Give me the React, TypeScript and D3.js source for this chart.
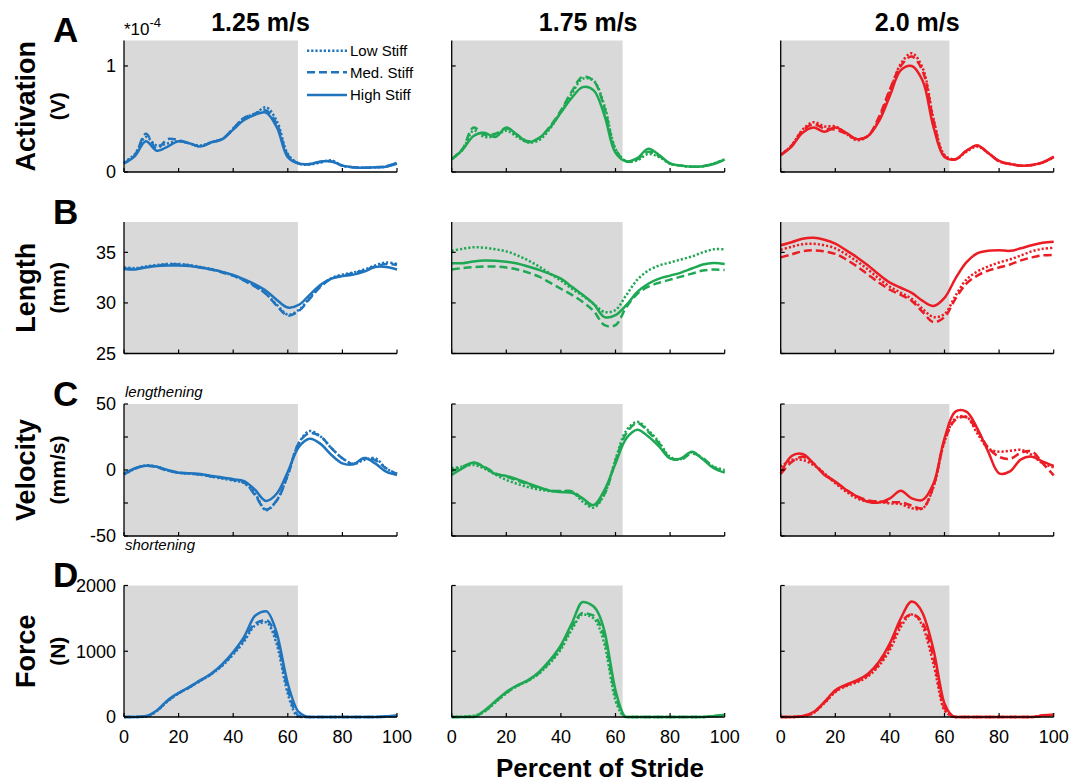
import * as d3 from 'd3';

// percent of stride sample points shared by every series
const PCT = [0, 4, 8, 12, 16, 20, 24, 28, 32, 36, 40, 44, 48, 52, 56, 60, 64, 68, 72, 76, 80, 84, 88, 92, 96, 100];

const SPEEDS = ['1.25 m/s', '1.75 m/s', '2.0 m/s'];
const STANCE_END = [63.7, 62.6, 61.8];
const STIFFNESS = ['Low Stiff', 'Med. Stiff', 'High Stiff'];
const X_TICKS = [0, 20, 40, 60, 80, 100];

// Activation (x1e-4 V)
const ACT_125_LOW = [0.09, 0.17, 0.33, 0.25, 0.27, 0.29, 0.27, 0.25, 0.28, 0.31, 0.41, 0.51, 0.55, 0.61, 0.48, 0.17, 0.08, 0.07, 0.09, 0.11, 0.06, 0.045, 0.04, 0.045, 0.05, 0.09];
const ACT_125_MED = [0.08, 0.16, 0.36, 0.22, 0.31, 0.30, 0.27, 0.24, 0.28, 0.31, 0.41, 0.51, 0.55, 0.58, 0.45, 0.16, 0.08, 0.075, 0.095, 0.10, 0.06, 0.045, 0.04, 0.045, 0.055, 0.085];
const ACT_125_HIGH = [0.08, 0.15, 0.29, 0.20, 0.24, 0.29, 0.27, 0.24, 0.28, 0.31, 0.40, 0.49, 0.54, 0.56, 0.42, 0.14, 0.08, 0.075, 0.10, 0.10, 0.06, 0.045, 0.04, 0.045, 0.05, 0.08];
const ACT_175_LOW = [0.12, 0.21, 0.39, 0.33, 0.34, 0.39, 0.33, 0.28, 0.30, 0.41, 0.57, 0.74, 0.88, 0.86, 0.62, 0.22, 0.10, 0.11, 0.17, 0.14, 0.08, 0.06, 0.05, 0.055, 0.08, 0.12];
const ACT_175_MED = [0.12, 0.22, 0.42, 0.35, 0.36, 0.41, 0.35, 0.29, 0.32, 0.43, 0.58, 0.76, 0.90, 0.86, 0.60, 0.21, 0.10, 0.12, 0.19, 0.15, 0.08, 0.06, 0.05, 0.055, 0.08, 0.12];
const ACT_175_HIGH = [0.12, 0.21, 0.34, 0.37, 0.33, 0.42, 0.35, 0.28, 0.32, 0.42, 0.56, 0.70, 0.80, 0.77, 0.53, 0.18, 0.10, 0.13, 0.22, 0.16, 0.08, 0.06, 0.05, 0.055, 0.075, 0.12];
const ACT_200_LOW = [0.16, 0.25, 0.40, 0.47, 0.43, 0.43, 0.36, 0.30, 0.34, 0.50, 0.76, 1.02, 1.12, 0.98, 0.50, 0.16, 0.12, 0.19, 0.24, 0.18, 0.10, 0.075, 0.06, 0.065, 0.09, 0.14];
const ACT_200_MED = [0.16, 0.25, 0.39, 0.45, 0.41, 0.40, 0.36, 0.31, 0.34, 0.52, 0.78, 1.0, 1.09, 0.95, 0.48, 0.15, 0.12, 0.20, 0.25, 0.18, 0.10, 0.075, 0.06, 0.065, 0.09, 0.14];
const ACT_200_HIGH = [0.16, 0.24, 0.37, 0.42, 0.38, 0.42, 0.37, 0.31, 0.34, 0.48, 0.72, 0.96, 1.0, 0.86, 0.42, 0.14, 0.12, 0.20, 0.25, 0.18, 0.105, 0.075, 0.06, 0.065, 0.09, 0.145];

// Length (mm)
const LEN_125_LOW = [33.5, 33.45, 33.6, 33.75, 33.85, 33.85, 33.75, 33.55, 33.35, 33.05, 32.7, 32.25, 31.7, 30.9, 29.8, 28.85, 29.3, 30.5, 31.7, 32.45, 32.8, 33.0, 33.3, 33.7, 34.0, 33.85];
const LEN_125_MED = [33.4, 33.35, 33.55, 33.7, 33.8, 33.8, 33.7, 33.5, 33.3, 33.0, 32.7, 32.2, 31.6, 30.9, 29.7, 28.75, 29.2, 30.4, 31.6, 32.4, 32.7, 32.95, 33.2, 33.6, 33.85, 33.75];
const LEN_125_HIGH = [33.35, 33.3, 33.5, 33.65, 33.7, 33.7, 33.65, 33.5, 33.33, 33.07, 32.77, 32.33, 31.83, 31.2, 30.3, 29.55, 29.8, 30.8, 31.8, 32.4, 32.65, 32.8, 33.1, 33.55, 33.55, 33.3];
const LEN_175_LOW = [35.15, 35.35, 35.5, 35.45, 35.3, 35.1, 34.7, 34.2, 33.6, 32.9, 32.2, 31.4, 30.7, 29.9, 29.1, 29.3, 30.8, 32.3, 33.2, 33.7, 34.0, 34.3, 34.6, 35.0, 35.3, 35.3];
const LEN_175_MED = [33.3, 33.45, 33.55, 33.6, 33.6, 33.5, 33.3, 33.0, 32.6, 32.0, 31.4, 30.8, 30.1, 29.2, 27.8, 27.8, 29.6, 30.9, 31.6, 32.0, 32.3, 32.6, 32.9, 33.2, 33.3, 33.25];
const LEN_175_HIGH = [33.93, 33.93, 34.1, 34.2, 34.17, 34.07, 33.9, 33.6, 33.27, 32.87, 32.4, 31.6, 30.8, 29.9, 28.6, 28.8, 29.8, 31.1, 31.9, 32.4, 32.7, 33.0, 33.4, 33.8, 33.95, 33.85];
const LEN_200_LOW = [35.25, 35.55, 35.8, 35.85, 35.7, 35.4, 34.8, 34.1, 33.3, 32.4, 31.6, 31.0, 30.4, 29.4, 28.6, 28.9, 30.7, 32.3, 33.1, 33.6, 34.0, 34.3, 34.7, 35.1, 35.35, 35.45];
const LEN_200_MED = [34.5, 34.8, 35.1, 35.2, 35.1, 34.85, 34.3, 33.6, 32.8, 32.0, 31.3, 30.8, 30.2, 29.1, 28.1, 28.6, 30.4, 31.9, 32.7, 33.2, 33.5, 33.8, 34.2, 34.5, 34.7, 34.75];
const LEN_200_HIGH = [35.7, 36.0, 36.35, 36.45, 36.25, 35.85, 35.2, 34.5, 33.7, 32.8, 32.0, 31.5, 31.0, 30.2, 29.7, 30.5, 32.4, 34.0, 34.9, 35.15, 35.2, 35.15, 35.4, 35.7, 35.95, 36.05];

// Velocity (mm/s)
const VEL_125_LOW = [-3.5, 1.0, 3.5, 2.5, -0.5, -2.0, -2.8, -3.5, -5.0, -6.5, -8.0, -10, -18, -30.5, -22.8, -3.8, 20.3, 29.5, 25.4, 16.5, 8.9, 4.6, 7.6, 8.9, 1.3, -3.0];
const VEL_125_MED = [-3.0, 1.0, 3.2, 2.2, -0.5, -2.0, -2.5, -3.5, -5.0, -6.0, -7.5, -9.5, -19, -30, -23, -3.8, 20.3, 28, 25.4, 16.5, 8.9, 4.6, 9.0, 7.5, 1.3, -3.0];
const VEL_125_HIGH = [-3.0, 1.3, 3.2, 2.5, 0, -2.0, -2.5, -3.0, -4.6, -5.6, -7.0, -8.4, -15, -23.4, -17.8, -1.3, 17.3, 23.6, 19.8, 11.4, 5.0, 4.3, 9.0, 5.0, -1.3, -3.8];
const VEL_175_LOW = [1.3, 2.5, 3.8, 1.0, -3.5, -7.5, -10.5, -13.0, -14.8, -16.0, -16.4, -16.5, -24, -28.5, -18, 8, 30, 36.5, 30, 21, 10, 8.3, 13.5, 8.5, 2.5, 0];
const VEL_175_MED = [-1, 2.5, 5.5, 2.5, -2.5, -5, -8, -11, -13.5, -15.5, -16, -16, -22, -27.5, -18, 7, 28, 35.5, 29, 20, 9, 8, 12.5, 9, 2, -1.5];
const VEL_175_HIGH = [-3.8, 1.3, 5.6, 2.0, -3.0, -4.5, -7.1, -10.1, -13.1, -15.7, -16.7, -17.2, -21.5, -26.5, -15, 5, 24, 30.5, 25.3, 17.7, 8.8, 8.8, 13.9, 8.1, 1.3, -2.0];
const VEL_200_LOW = [2.5, 7.6, 7.6, 3.8, -2.5, -10, -16.4, -21.5, -24, -24, -25.3, -25.8, -29, -29, -12.6, 21.5, 39.1, 40.4, 27.8, 16.4, 13.9, 14.6, 15.2, 11.4, 5, 2];
const VEL_200_MED = [-3, 6, 10, 5, -3, -9, -15, -20, -23, -24, -24.5, -24.5, -27, -29, -12, 22, 38, 40, 30, 17, 10, 8.5, 13, 14, 5, -4];
const VEL_200_HIGH = [-2.5, 10.6, 12.1, 5.0, -3.8, -8.8, -15.2, -20.2, -24.0, -24.7, -21.5, -15.7, -21.5, -22.7, -10.1, 24, 44.2, 44.2, 31.6, 13.9, -2.5, -1, 8.1, 10.1, 6.3, 3.0];

// Force (N)
const FRC_125_LOW = [0, 0, 5, 90, 240, 360, 450, 550, 650, 780, 950, 1150, 1390, 1440, 1100, 350, 0, 0, 0, 0, 0, 0, 0, 0, 5, 20];
const FRC_125_MED = [0, 0, 10, 95, 245, 362, 455, 555, 655, 790, 970, 1180, 1420, 1470, 1180, 420, 20, 0, 0, 0, 0, 0, 0, 0, 5, 20];
const FRC_125_HIGH = [0, 0, 15, 100, 255, 365, 458, 560, 660, 805, 990, 1220, 1540, 1610, 1272, 509, 76, 0, 0, 0, 0, 0, 0, 0, 10, 25];
const FRC_175_LOW = [0, 5, 20, 80, 220, 360, 470, 550, 660, 820, 1030, 1330, 1560, 1500, 1100, 250, 0, 0, 0, 0, 0, 0, 0, 0, 10, 30];
const FRC_175_MED = [0, 0, 10, 85, 230, 370, 475, 555, 670, 840, 1060, 1370, 1580, 1540, 1200, 330, 0, 0, 0, 0, 0, 0, 0, 0, 10, 30];
const FRC_175_HIGH = [0, 0, 0, 100, 240, 380, 483, 560, 687, 865, 1094, 1425, 1750, 1680, 1300, 407, 0, 0, 0, 0, 0, 0, 0, 0, 15, 35];
const FRC_200_LOW = [0, 0, 5, 60, 210, 380, 470, 530, 620, 780, 1020, 1370, 1560, 1380, 800, 100, 0, 0, 0, 0, 0, 0, 0, 0, 20, 30];
const FRC_200_MED = [0, 0, 10, 65, 220, 390, 480, 545, 640, 810, 1070, 1430, 1560, 1430, 900, 140, 0, 0, 0, 0, 0, 0, 0, 0, 20, 30];
const FRC_200_HIGH = [0, 0, 15, 76, 229, 407, 494, 560, 660, 840, 1120, 1500, 1756, 1578, 1018, 204, 0, 0, 0, 0, 0, 0, 0, 0, 25, 35];

const ROWS = [
  {
    letter: 'A', name: 'Activation', unit: '(V)', domain: [0, 1.24], ticks: [0, 1], labels: [0, 1],
    series: [
      [ACT_125_LOW, ACT_125_MED, ACT_125_HIGH],
      [ACT_175_LOW, ACT_175_MED, ACT_175_HIGH],
      [ACT_200_LOW, ACT_200_MED, ACT_200_HIGH],
    ],
  },
  {
    letter: 'B', name: 'Length', unit: '(mm)', domain: [25, 38], ticks: [25, 30, 35], labels: [25, 30, 35],
    series: [
      [LEN_125_LOW, LEN_125_MED, LEN_125_HIGH],
      [LEN_175_LOW, LEN_175_MED, LEN_175_HIGH],
      [LEN_200_LOW, LEN_200_MED, LEN_200_HIGH],
    ],
  },
  {
    letter: 'C', name: 'Velocity', unit: '(mm/s)', domain: [-50, 50], ticks: [-50, -25, 0, 25, 50], labels: [-50, 0, 50],
    series: [
      [VEL_125_LOW, VEL_125_MED, VEL_125_HIGH],
      [VEL_175_LOW, VEL_175_MED, VEL_175_HIGH],
      [VEL_200_LOW, VEL_200_MED, VEL_200_HIGH],
    ],
  },
  {
    letter: 'D', name: 'Force', unit: '(N)', domain: [0, 2000], ticks: [0, 1000, 2000], labels: [0, 1000, 2000],
    series: [
      [FRC_125_LOW, FRC_125_MED, FRC_125_HIGH],
      [FRC_175_LOW, FRC_175_MED, FRC_175_HIGH],
      [FRC_200_LOW, FRC_200_MED, FRC_200_HIGH],
    ],
  },
];

const COLORS = ['#1f74bd', '#1fa854', '#ec1c24'];
const DASHES = ['2.2 2', '8 4', null];
const FONT = '"Liberation Sans", Arial, Helvetica, sans-serif';

const COL_X = [124, 451.7, 780.7];
const ROW_Y = [40.5, 222, 404, 585.5];
const ROW_H = [131.5, 131.5, 132, 131.5];
const PW = 273;
const LW = 2.5;

function Panel({ ri, ci }: { ri: number; ci: number }) {
  const row = ROWS[ri];
  const x0 = COL_X[ci];
  const y0 = ROW_Y[ri];
  const ph = ROW_H[ri];
  const x = d3.scaleLinear().domain([0, 100]).range([x0, x0 + PW]);
  const y = d3.scaleLinear().domain(row.domain).range([y0 + ph, y0]);
  const curve = ri === 3 ? d3.curveMonotoneX : d3.curveCatmullRom.alpha(0.5);
  const line = d3
    .line<number>()
    .x((_, i) => x(PCT[i]))
    .y((d) => y(d))
    .curve(curve);
  const color = COLORS[ci];
  const bottom = y0 + ph;

  return (
    <g>
      <rect x={x(0)} y={y0} width={x(STANCE_END[ci]) - x(0)} height={ph} fill="#d9d9d9" />
      {row.series[ci].map((vals, si) => (
        <path
          key={si}
          d={line(vals) || ''}
          fill="none"
          stroke={color}
          strokeWidth={LW}
          strokeDasharray={DASHES[si] || undefined}
        />
      ))}
      <line x1={x0} x2={x0} y1={y0} y2={bottom} stroke="#000" strokeWidth={1.3} />
      <line x1={x0} x2={x0 + PW} y1={bottom} y2={bottom} stroke="#000" strokeWidth={1.3} />
      {X_TICKS.map((t) => (
        <line key={'xt' + t} x1={x(t)} x2={x(t)} y1={bottom} y2={bottom - 4} stroke="#000" strokeWidth={1.2} />
      ))}
      {row.ticks.map((t) => (
        <line key={'yt' + t} x1={x0} x2={x0 + 4} y1={y(t)} y2={y(t)} stroke="#000" strokeWidth={1.2} />
      ))}
      {ci === 0 &&
        row.labels.map((t) => (
          <text key={'yl' + t} x={x0 - 8} y={y(t)} dy="0.36em" textAnchor="end" fontSize={18}>
            {t}
          </text>
        ))}
      {ri === 3 &&
        X_TICKS.map((t) => (
          <text key={'xl' + t} x={x(t)} y={743} textAnchor="middle" fontSize={18}>
            {t}
          </text>
        ))}
    </g>
  );
}

function Legend() {
  const rowsY = [50.7, 72.3, 95];
  return (
    <g>
      {STIFFNESS.map((name, i) => (
        <g key={name}>
          <line
            x1={307}
            x2={347}
            y1={rowsY[i]}
            y2={rowsY[i]}
            stroke={COLORS[0]}
            strokeWidth={LW}
            strokeDasharray={DASHES[i] || undefined}
          />
          <text x={350} y={rowsY[i] + 5.3} fontSize={15}>
            {name}
          </text>
        </g>
      ))}
    </g>
  );
}

export default function App() {
  return (
    <svg
      width={1084}
      height={784}
      style={{ position: 'absolute', left: 0, top: 0, background: '#fff' }}
      fontFamily={FONT}
    >
      {ROWS.map((row, ri) => (
        <g key={row.letter}>
          <text x={53} y={ROW_Y[ri] + 1.5} fontSize={35} fontWeight="bold">
            {row.letter}
          </text>
          <text
            transform={`translate(35,${ROW_Y[ri] + ROW_H[ri] / 2}) rotate(-90)`}
            textAnchor="middle"
            fontSize={27}
            fontWeight="bold"
          >
            {row.name}
          </text>
          <text
            transform={`translate(65,${ROW_Y[ri] + ROW_H[ri] / 2}) rotate(-90)`}
            textAnchor="middle"
            fontSize={21}
            fontWeight="bold"
          >
            {row.unit}
          </text>
          {SPEEDS.map((_, ci) => (
            <Panel key={ci} ri={ri} ci={ci} />
          ))}
        </g>
      ))}
      {SPEEDS.map((s, ci) => (
        <text key={s} x={COL_X[ci] + PW / 2} y={31} textAnchor="middle" fontSize={25} fontWeight="bold">
          {s}
        </text>
      ))}
      <text x={124} y={35} fontSize={17}>
        *10
        <tspan dy={-8.5} fontSize={13}>
          -4
        </tspan>
      </text>
      <text x={125} y={396.5} fontSize={15} fontStyle="italic">
        lengthening
      </text>
      <text x={125} y={550} fontSize={15} fontStyle="italic">
        shortening
      </text>
      <Legend />
      <text x={600} y={777} textAnchor="middle" fontSize={26} fontWeight="bold">
        Percent of Stride
      </text>
    </svg>
  );
}
